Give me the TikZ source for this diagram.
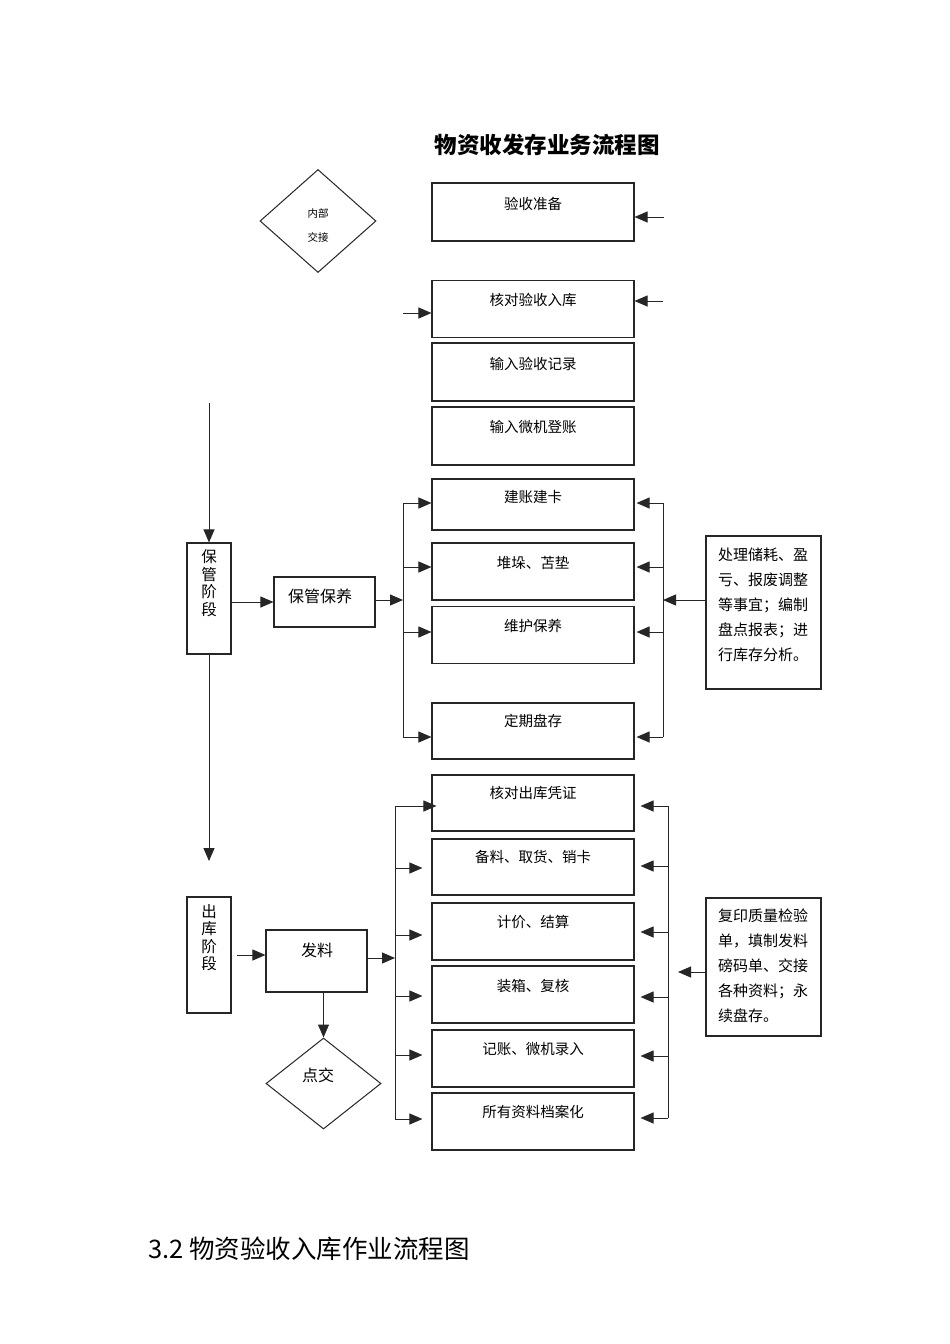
\documentclass[tikz,border=0pt]{standalone}
\usepackage{fontspec}
\newfontfamily\cjk{Noto Sans CJK SC}
\usetikzlibrary{arrows.meta,shapes.geometric}
\begin{document}
\begin{tikzpicture}[x=1pt,y=-1pt,
  box/.style={draw=black!85,line width=1.1pt,rectangle,inner sep=0pt},
  wbox/.style={box,minimum width=202pt},
  lbl/.style={font=\cjk\fontsize{14.5}{16}\selectfont,inner sep=0pt},
  big/.style={font=\cjk\fontsize{16}{18}\selectfont,inner sep=0pt},
  vtxt/.style={font=\cjk\fontsize{15.5}{17.5}\selectfont,inner sep=0pt,align=center},
  note/.style={font=\cjk\fontsize{15}{25}\selectfont,inner sep=0pt,align=left},
  dia/.style={draw=black!85,line width=1pt,diamond,inner sep=0pt},
  ln/.style={draw=black!85,line width=1pt},
  arr/.style={draw=black!85,line width=1pt,-{Triangle[length=13pt,width=11pt]}}
]
\useasboundingbox (0,0) rectangle (950,1344);
\fill[white] (0,0) rectangle (950,1344);

% title
\node[font=\cjk\bfseries\fontsize{22.5}{25}\selectfont,inner sep=0pt] (title) at (547,145) {物资收发存业务流程图};

% top diamond
\node[dia,minimum width=116pt,minimum height=103pt] (dtop) at (318,221) {};
\node[font=\cjk\fontsize{10.5}{12}\selectfont,inner sep=0pt] (dtopa) at (318,213) {内部};
\node[font=\cjk\fontsize{10.5}{12}\selectfont,inner sep=0pt] (dtopb) at (318,237) {交接};

% receiving boxes
\node[wbox,minimum height=58pt] (b1) at (533,212) {};
\node[lbl] (b1t) at (533,204) {验收准备};
\node[wbox,minimum height=57pt] (b2) at (533,309) {};
\node[lbl] (b2t) at (533,300) {核对验收入库};
\node[wbox,minimum height=58pt] (b3) at (533,372) {};
\node[lbl] (b3t) at (533,364) {输入验收记录};
\node[wbox,minimum height=58pt] (b4) at (533,436) {};
\node[lbl] (b4t) at (533,427) {输入微机登账};

\coordinate (b1in) at (664,217);
\draw[arr] (b1in) -- (b1.east |- b1in);
\coordinate (b2inR) at (663,301);
\draw[arr] (b2inR) -- (b2.east |- b2inR);
\coordinate (b2inL) at (403,313);
\draw[arr] (b2inL) -- (b2.west |- b2inL);

% storage stage
\node[box,minimum width=44pt,minimum height=111pt] (s1) at (209,598.5) {};
\node[vtxt] (s1t) at (209,583) {保\\管\\阶\\段};
\coordinate (vtop) at (209,403);
\draw[arr] (vtop) -- (s1.north);
\coordinate (vbot) at (209,861);
\draw[arr] (s1.south) -- (vbot);

\node[box,minimum width=101pt,minimum height=50pt] (p1) at (324.5,602) {};
\node[big] (p1t) at (320,596) {保管保养};
\draw[arr] (s1.east |- 0,602) -- (p1.west |- 0,602);

\node[wbox,minimum height=51pt] (c1) at (533,504.5) {};
\node[lbl] (c1t) at (533,497) {建账建卡};
\node[wbox,minimum height=57pt] (c2) at (533,571.5) {};
\node[lbl] (c2t) at (533,563) {堆垛、苫垫};
\node[wbox,minimum height=57pt] (c3) at (533,635) {};
\node[lbl] (c3t) at (533,626) {维护保养};
\node[wbox,minimum height=56pt] (c4) at (533,731) {};
\node[lbl] (c4t) at (533,721) {定期盘存};

\coordinate (j1) at (403,600);
\draw[arr] (p1.east |- j1) -- (j1);
\coordinate (L1) at (403,503);
\coordinate (L2) at (403,567);
\coordinate (L3) at (403,632);
\coordinate (L4) at (403,737);
\draw[ln] (L1) -- (L4);
\foreach \k in {1,2,3,4} \draw[arr] (L\k) -- (c\k.west |- L\k);

\coordinate (R1) at (663,503);
\coordinate (R2) at (663,567);
\coordinate (R3) at (663,632);
\coordinate (R4) at (663,737);
\draw[ln] (R1) -- (R4);
\foreach \k in {1,2,3,4} \draw[arr,shorten >=2pt] (R\k) -- (c\k.east |- R\k);

\node[box,minimum width=115pt,minimum height=153pt] (n1) at (763.5,612.5) {};
\node[note,anchor=north west] (n1t) at (718,548) {处理储耗、盈\\亏、报废调整\\等事宜；编制\\盘点报表；进\\行库存分析。};
\coordinate (j2) at (663,600);
\draw[arr] (n1.west |- j2) -- (j2);

% issuing stage
\node[box,minimum width=44pt,minimum height=116pt] (q1) at (209,955) {};
\node[vtxt] (q1t) at (209,937.5) {出\\库\\阶\\段};
\node[box,minimum width=101pt,minimum height=62pt] (f1) at (316.5,961) {};
\node[big] (f1t) at (317,950) {发料};
\coordinate (q1out) at (237,955);
\draw[arr] (q1out) -- (f1.west |- q1out);

\node[dia,minimum width=115pt,minimum height=91pt] (d2) at (323.5,1083.5) {};
\node[big] (d2t) at (318,1075) {点交};
\draw[arr] (f1.south -| d2.north) -- (d2.north);

\node[wbox,minimum height=56pt] (e1) at (533,803) {};
\node[lbl] (e1t) at (533,793) {核对出库凭证};
\node[wbox,minimum height=56pt] (e2) at (533,867) {};
\node[lbl] (e2t) at (533,857) {备料、取货、销卡};
\node[wbox,minimum height=57pt] (e3) at (533,931.5) {};
\node[lbl] (e3t) at (533,922) {计价、结算};
\node[wbox,minimum height=57pt] (e4) at (533,994.5) {};
\node[lbl] (e4t) at (533,986) {装箱、复核};
\node[wbox,minimum height=57pt] (e5) at (533,1058.5) {};
\node[lbl] (e5t) at (533,1049) {记账、微机录入};
\node[wbox,minimum height=57pt] (e6) at (533,1121.5) {};
\node[lbl] (e6t) at (533,1112) {所有资料档案化};

\coordinate (j3) at (395,958);
\draw[arr] (f1.east |- j3) -- (j3);
\coordinate (M1) at (395,806);
\coordinate (M2) at (395,868);
\coordinate (M3) at (395,935);
\coordinate (M4) at (395,996);
\coordinate (M5) at (395,1055);
\coordinate (M6) at (395,1119);
\draw[ln] (M1) -- (M6);
\draw[arr,shorten >=-5pt] (M1) -- (e1.west |- M1);
\foreach \k in {2,3,4,5,6} \draw[arr,shorten >=9pt] (M\k) -- (e\k.west |- M\k);

\coordinate (T1) at (668,806);
\coordinate (T2) at (668,866);
\coordinate (T3) at (668,932);
\coordinate (T4) at (668,997);
\coordinate (T5) at (668,1056);
\coordinate (T6) at (668,1118);
\draw[ln] (T1) -- (T6);
\foreach \k in {1,2,3,4,5,6} \draw[arr,shorten >=6pt] (T\k) -- (e\k.east |- T\k);

\node[box,minimum width=115pt,minimum height=138pt] (n2) at (763.5,967) {};
\node[note,anchor=north west] (n2t) at (718,909) {复印质量检验\\单，填制发料\\磅码单、交接\\各种资料；永\\续盘存。};
\coordinate (j4) at (678,972);
\draw[arr] (n2.west |- j4) -- (j4);

% caption
\node[anchor=west,font=\cjk\fontsize{25.5}{28}\selectfont,inner sep=0pt] (cap) at (148,1249) {3.2 物资验收入库作业流程图};
\end{tikzpicture}
\end{document}
